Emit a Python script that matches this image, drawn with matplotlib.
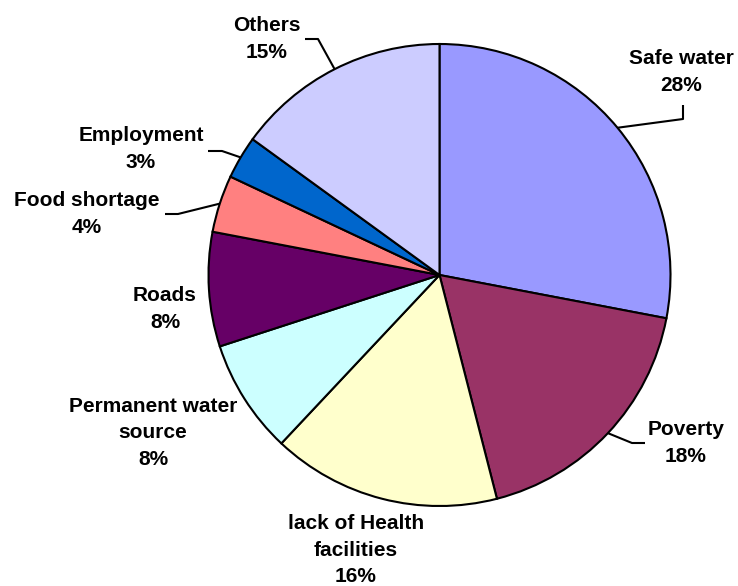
import numpy as np
import matplotlib
matplotlib.use("Agg")
from matplotlib import pyplot as plt

labels = ['Safe water', 'Poverty', 'lack of Health\nfacilities',
          'Permanent water\nsource', 'Roads', 'Food shortage',
          'Employment', 'Others']
values = [28, 18, 16, 8, 8, 4, 3, 15]
colors = ['#9999FF', '#993366', '#FFFFCC', '#CCFFFF', '#660066',
          '#FF8080', '#0066CC', '#CCCCFF']

W, H = 738, 586
cx, cy, r = 439.5, 275, 231

# label block centres (pixels from top-left) and leader elbows
text_pos = [(681, 72), (686, 443), (356, 550), (153, 433),
            (165, 309), (87, 214), (141, 149), (267, 39)]
leaders = {
    0: [(683, 119), (683, 105)],
    1: [(632, 443), (645, 443)],
    5: [(178, 214), (165, 214)],
    6: [(222, 151), (208, 151)],
    7: [(318, 39), (305, 39)],
}

plt.rcParams['font.family'] = ['Liberation Sans', 'DejaVu Sans']
fig = plt.figure(figsize=(W / 100, H / 100), dpi=100)
ax = fig.add_axes([0, 0, 1, 1])

wedges, _ = ax.pie(values, colors=colors, startangle=90, counterclock=False,
                   center=(cx, H - cy), radius=r, frame=True,
                   wedgeprops=dict(edgecolor='black', linewidth=1.5))
ax.set_xlim(0, W)
ax.set_ylim(0, H)
ax.set_aspect('equal')
ax.axis('off')

total = sum(values)
for i, (lab, v, w) in enumerate(zip(labels, values, wedges)):
    tx, ty = text_pos[i]
    ax.text(tx, H - ty, f"{lab}\n{round(100 * v / total)}%", ha='center',
            va='center', fontsize=15, fontweight='bold', linespacing=1.5)
    if i in leaders:
        mid = np.radians((w.theta1 + w.theta2) / 2)
        px = cx + r * np.cos(mid)
        py = H - cy + r * np.sin(mid)
        xs = [px] + [p[0] for p in leaders[i]]
        ys = [py] + [H - p[1] for p in leaders[i]]
        ax.plot(xs, ys, color='black', lw=1.5, solid_capstyle='butt')

fig.savefig('out.png', dpi=100)
